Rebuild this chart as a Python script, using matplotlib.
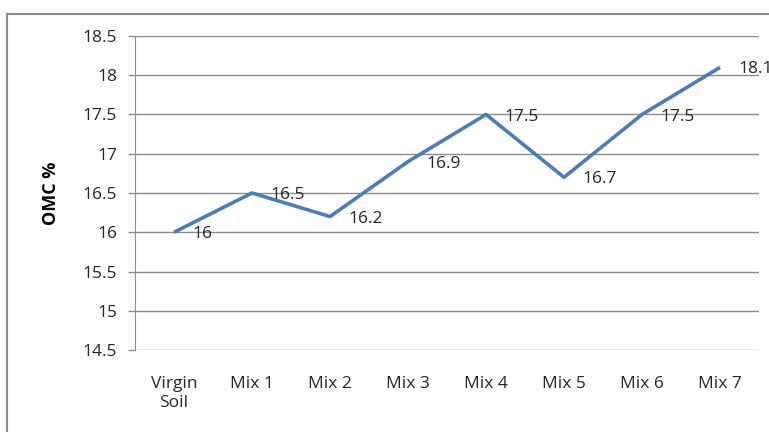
import matplotlib.pyplot as plt
from matplotlib.patches import Rectangle

categories = ['Virgin\nSoil', 'Mix 1', 'Mix 2', 'Mix 3', 'Mix 4', 'Mix 5', 'Mix 6', 'Mix 7']
omc = [16, 16.5, 16.2, 16.9, 17.5, 16.7, 17.5, 18.1]
yticks = [14.5, 15, 15.5, 16, 16.5, 17, 17.5, 18, 18.5]

plt.rcParams['font.family'] = ['Open Sans', 'DejaVu Sans']

fig = plt.figure(figsize=(7.69, 4.32), dpi=100)
ax = fig.add_axes([0.1756, 0.1898, 0.8114, 0.7269])

# chart outer border (Excel style)
fig.patches.append(Rectangle((7 / 769, -0.1), 1.2, 1 - 14 / 432 + 0.1, transform=fig.transFigure,
                             fill=False, edgecolor='#8c8c8c', linewidth=1.5, zorder=0))

x = list(range(len(categories)))
ax.plot(x, omc, color='#4a7ebb', linewidth=2.6, solid_capstyle='butt', zorder=3)

for xi, v in zip(x, omc):
    ax.annotate(f'{v:g}', (xi, v), xytext=(13.5, -1.5), textcoords='offset points',
                ha='left', va='center', fontsize=12.5, color='#262626', zorder=4)

ax.set_xlim(-0.5, len(categories) - 0.5)
ax.set_ylim(14.5, 18.5)
ax.set_yticks(yticks)
ax.set_yticklabels([f'{t:g}' for t in yticks])
ax.set_xticks(x)
ax.set_xticklabels(categories)
ax.yaxis.grid(True, color='#8c8c8c', linewidth=1)
ax.set_axisbelow(True)

for s in ['top', 'right', 'bottom']:
    ax.spines[s].set_visible(False)
ax.spines['left'].set_color('#8c8c8c')
ax.tick_params(axis='y', length=5, width=1, color='#8c8c8c', pad=8, labelsize=12.5, labelcolor='#262626')
ax.tick_params(axis='x', length=0, pad=19, labelsize=12.5, labelcolor='#262626')

ax.set_ylabel('OMC %', fontsize=13, fontweight='bold', labelpad=16)

fig.savefig('out.png', dpi=100)
